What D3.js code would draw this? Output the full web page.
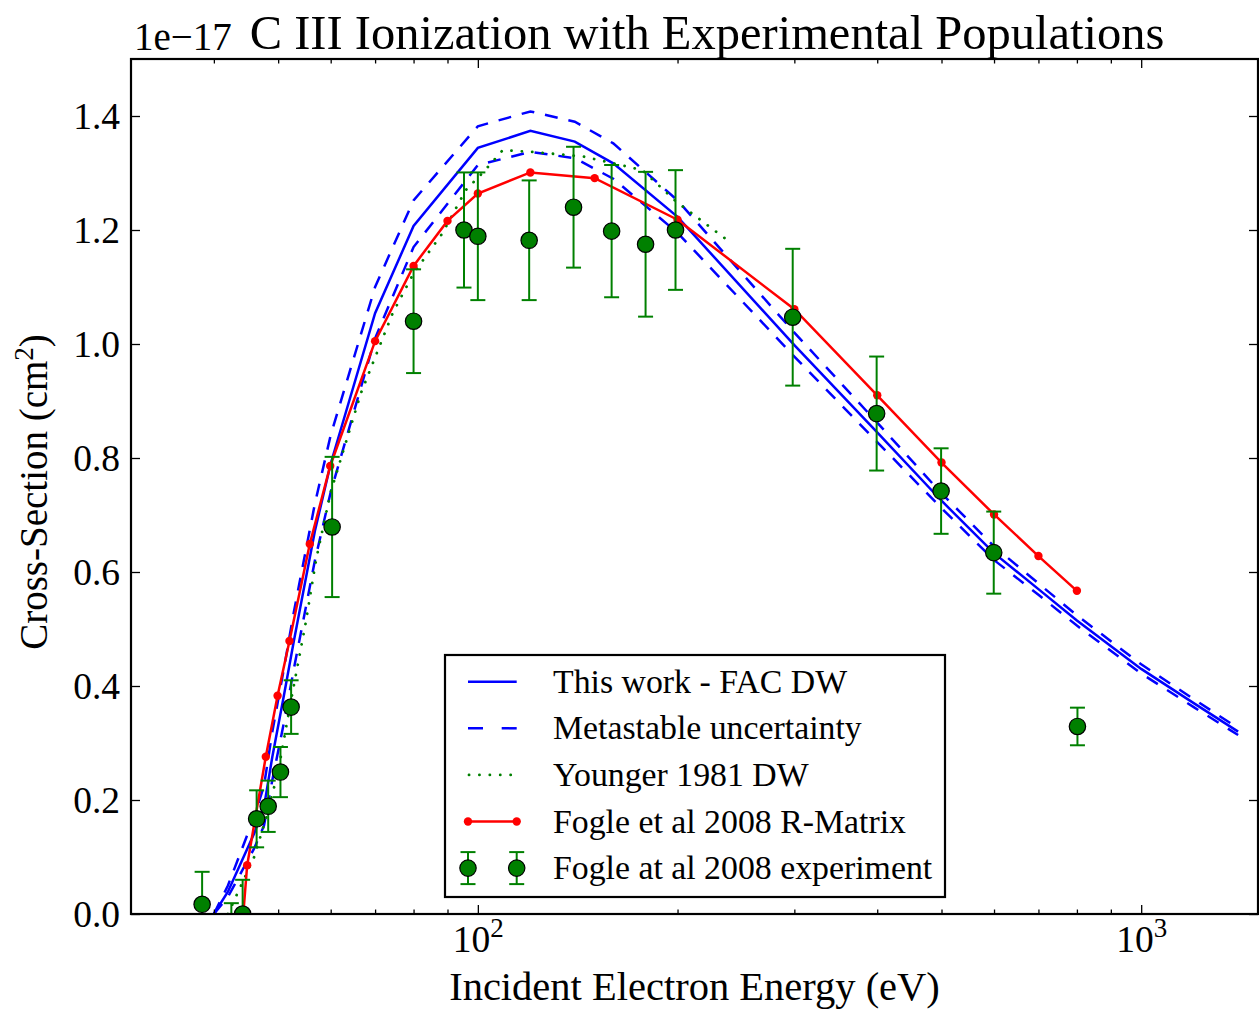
<!DOCTYPE html>
<html>
<head>
<meta charset="utf-8">
<script src="https://cdn.jsdelivr.net/npm/d3@7"></script>
<style>
  body { margin: 0; background: #fff; }
  svg { display: block; }
  text { font-family: "Liberation Serif", "DejaVu Serif", serif; fill: #000; }
</style>
</head>
<body>
<svg id="chart" width="1259" height="1010"></svg>
<script>
// Electron-impact ionization of C III, cross-sections in units of 1e-17 cm^2

// This work - FAC distorted-wave
const facEnergy = [40, 42, 46, 47.6, 49, 51, 52.8, 56.8, 60, 70, 80, 100, 120, 140, 160, 200, 300, 400, 500, 600, 700, 800, 1000, 1200, 1400];
const facSigma  = [0, 0.039, 0.141, 0.188, 0.276, 0.383, 0.479, 0.672, 0.79, 1.054, 1.207, 1.344, 1.374, 1.355, 1.317, 1.223, 0.998, 0.845, 0.725, 0.633, 0.57, 0.515, 0.43, 0.37, 0.32];
// Metastable-fraction uncertainty band (upper / lower)
const facHigh   = [0, 0.05, 0.17, 0.225, 0.32, 0.43, 0.53, 0.72, 0.84, 1.10, 1.252, 1.382, 1.408, 1.39, 1.352, 1.252, 1.02, 0.862, 0.738, 0.645, 0.58, 0.524, 0.438, 0.377, 0.326];
const facLow    = [0, 0.03, 0.115, 0.155, 0.235, 0.335, 0.43, 0.62, 0.74, 1.01, 1.17, 1.314, 1.337, 1.326, 1.29, 1.195, 0.978, 0.828, 0.712, 0.621, 0.56, 0.506, 0.422, 0.363, 0.314];

// Younger 1981 distorted-wave
const youngerEnergy = [42, 46, 48, 50, 52, 55, 57, 60, 66.6, 74.4, 80, 88.4, 95.9, 102, 109, 121, 144, 160, 177, 199, 236];
const youngerSigma  = [0, 0.1, 0.17, 0.25, 0.36, 0.51, 0.62, 0.74, 0.913, 1.054, 1.124, 1.194, 1.27, 1.302, 1.34, 1.337, 1.329, 1.317, 1.305, 1.25, 1.185];

// Fogle et al 2008 R-Matrix
const rmEnergy = [44.3, 44.9, 47.9, 49.9, 52.0, 55.8, 59.9, 70, 80, 90, 100, 120, 150, 200, 300, 400, 500, 600, 700, 800];
const rmSigma  = [0.0, 0.0855, 0.276, 0.383, 0.479, 0.649, 0.786, 1.005, 1.137, 1.216, 1.264, 1.301, 1.291, 1.218, 1.061, 0.910, 0.792, 0.701, 0.628, 0.567];

// Fogle et al 2008 experiment
const expEnergy = [38.4, 42.5, 44.2, 46.4, 48.3, 50.4, 52.3, 60.3, 80, 95.3, 100, 119.5, 139.4, 159.1, 179, 198.6, 298.3, 399.2, 499.3, 599.4, 801.5];
const expSigma  = [0.017, -0.02, 0.0, 0.167, 0.189, 0.249, 0.363, 0.679, 1.040, 1.200, 1.189, 1.182, 1.240, 1.198, 1.175, 1.200, 1.047, 0.878, 0.742, 0.634, 0.329];
const expError  = [0.057, 0.039, 0.06, 0.05, 0.045, 0.044, 0.047, 0.123, 0.091, 0.101, 0.112, 0.105, 0.106, 0.116, 0.127, 0.105, 0.12, 0.1, 0.075, 0.072, 0.033];

// Axis ticks and text
const xMajorTicks = [100, 1000];
const xMinorTicks = [40, 50, 60, 70, 80, 90, 200, 300, 400, 500, 600, 700, 800, 900];
const yTicks = [0, 0.2, 0.4, 0.6, 0.8, 1.0, 1.2, 1.4];
const titleText = "C III Ionization with Experimental Populations";
const offsetText = "1e\u221217";
const xLabel = "Incident Electron Energy (eV)";
const yLabel = "Cross-Section (cm";
const legendLabels = ["This work - FAC DW", "Metastable uncertainty", "Younger 1981 DW", "Fogle et al 2008 R-Matrix", "Fogle at al 2008 experiment"];

const BLUE = "#0000ff", RED = "#ff0000", GREEN = "#008000";
const L = 131, R = 1258, T = 59, B = 914;

const svg = d3.select("#chart");
const x = d3.scaleLog().domain([30, 1500]).range([L, R]);
const y = d3.scaleLinear().domain([0, 1.5]).range([B, T]);

svg.append("defs").append("clipPath").attr("id", "plotClip")
  .append("rect").attr("x", L).attr("y", T).attr("width", R - L).attr("height", B - T);

const plot = svg.append("g").attr("clip-path", "url(#plotClip)");
const zip = (a, b) => a.map((v, i) => [v, b[i]]);
const line = d3.line().x(d => x(d[0])).y(d => y(d[1]));

// theory curves
plot.append("path").datum(zip(facEnergy, facSigma)).attr("d", line)
  .attr("fill", "none").attr("stroke", BLUE).attr("stroke-width", 2.5);
[facHigh, facLow].forEach(arr => {
  plot.append("path").datum(zip(facEnergy, arr)).attr("d", line)
    .attr("fill", "none").attr("stroke", BLUE).attr("stroke-width", 2.5)
    .attr("stroke-dasharray", "13,11");
});
plot.append("path").datum(zip(youngerEnergy, youngerSigma)).attr("d", line)
  .attr("fill", "none").attr("stroke", GREEN).attr("stroke-width", 2.8)
  .attr("stroke-linecap", "round").attr("stroke-dasharray", "0.1,10.3");

const rm = zip(rmEnergy, rmSigma);
plot.append("path").datum(rm).attr("d", line)
  .attr("fill", "none").attr("stroke", RED).attr("stroke-width", 2.5);
plot.selectAll("circle.rm").data(rm).join("circle").attr("class", "rm")
  .attr("cx", d => x(d[0])).attr("cy", d => y(d[1])).attr("r", 4.2).attr("fill", RED);

// experiment with error bars
const exp = expEnergy.map((e, i) => ({ e, v: expSigma[i], err: expError[i] }));
const eb = plot.append("g").attr("stroke", GREEN).attr("stroke-width", 2);
exp.forEach(d => {
  const cx = x(d.e), y0 = y(d.v - d.err), y1 = y(d.v + d.err);
  eb.append("line").attr("x1", cx).attr("x2", cx).attr("y1", y0).attr("y2", y1);
  eb.append("line").attr("x1", cx - 7.5).attr("x2", cx + 7.5).attr("y1", y0).attr("y2", y0);
  eb.append("line").attr("x1", cx - 7.5).attr("x2", cx + 7.5).attr("y1", y1).attr("y2", y1);
});
plot.selectAll("circle.exp").data(exp).join("circle").attr("class", "exp")
  .attr("cx", d => x(d.e)).attr("cy", d => y(d.v)).attr("r", 8.2)
  .attr("fill", GREEN).attr("stroke", "#000").attr("stroke-width", 1.2);

// axes: inward ticks on all four sides
const tickFont = 37.5;
const gx = svg.append("g").attr("transform", `translate(0,${B})`)
  .call(d3.axisBottom(x).tickValues(xMajorTicks).tickSize(-9).tickPadding(11.5).tickFormat(""));
gx.selectAll(".tick text").each(function (d) {
  const t = d3.select(this).attr("font-size", tickFont).attr("fill", "#000");
  t.append("tspan").text("10");
  t.append("tspan").attr("dy", -15).attr("font-size", 27).text(Math.round(Math.log10(d)));
});
svg.append("g").attr("transform", `translate(0,${B})`)
  .call(d3.axisBottom(x).tickValues(xMinorTicks).tickSize(-4.5).tickFormat(""));
svg.append("g").attr("transform", `translate(0,${T})`)
  .call(d3.axisTop(x).tickValues(xMajorTicks).tickSize(-9).tickFormat(""));
svg.append("g").attr("transform", `translate(0,${T})`)
  .call(d3.axisTop(x).tickValues(xMinorTicks).tickSize(-4.5).tickFormat(""));
svg.append("g").attr("transform", `translate(${L},0)`)
  .call(d3.axisLeft(y).tickValues(yTicks).tickSize(-9).tickPadding(11).tickFormat(d3.format(".1f")))
  .selectAll("text").attr("font-size", tickFont).attr("fill", "#000");
svg.append("g").attr("transform", `translate(${R},0)`)
  .call(d3.axisRight(y).tickValues(yTicks).tickSize(-9).tickFormat(""));
svg.selectAll(".domain").remove();
svg.selectAll(".tick line").attr("stroke", "#000").attr("stroke-width", 1.3);
svg.selectAll(".tick text").attr("font-family", '"Liberation Serif", serif');

// frame
svg.append("rect").attr("x", L).attr("y", T).attr("width", R - L).attr("height", B - T)
  .attr("fill", "none").attr("stroke", "#000").attr("stroke-width", 2.2);

// title, offset text and axis labels
svg.append("text").attr("x", 707).attr("y", 49).attr("text-anchor", "middle")
  .attr("font-size", 48.5).text(titleText);
svg.append("text").attr("x", 134).attr("y", 50).attr("font-size", 39).text(offsetText);
svg.append("text").attr("x", (L + R) / 2).attr("y", 1000).attr("text-anchor", "middle")
  .attr("font-size", 40.5).text(xLabel);
const yl = svg.append("text").attr("transform", `translate(47,492) rotate(-90)`)
  .attr("text-anchor", "middle").attr("font-size", 39);
yl.append("tspan").text(yLabel);
yl.append("tspan").attr("dy", -14).attr("font-size", 27).text("2");
yl.append("tspan").attr("dy", 14).text(")");

// legend
const lg = svg.append("g");
lg.append("rect").attr("x", 445).attr("y", 655).attr("width", 500).attr("height", 242)
  .attr("fill", "#fff").attr("stroke", "#000").attr("stroke-width", 2.2);
const rowY = i => 681.7 + i * 46.6;
const hx0 = 468, hx1 = 516.7;
legendLabels.forEach((lab, i) => {
  lg.append("text").attr("x", 553).attr("y", rowY(i) + 11).attr("font-size", 33.8).text(lab);
});
lg.append("line").attr("x1", hx0).attr("x2", hx1).attr("y1", rowY(0)).attr("y2", rowY(0))
  .attr("stroke", BLUE).attr("stroke-width", 2.5);
lg.append("line").attr("x1", hx0).attr("x2", hx1).attr("y1", rowY(1)).attr("y2", rowY(1))
  .attr("stroke", BLUE).attr("stroke-width", 2.5).attr("stroke-dasharray", "15,18.7");
lg.append("line").attr("x1", hx0 + 1).attr("x2", hx1).attr("y1", rowY(2)).attr("y2", rowY(2))
  .attr("stroke", GREEN).attr("stroke-width", 2.8).attr("stroke-linecap", "round")
  .attr("stroke-dasharray", "0.1,10.3");
lg.append("line").attr("x1", hx0).attr("x2", hx1).attr("y1", rowY(3)).attr("y2", rowY(3))
  .attr("stroke", RED).attr("stroke-width", 2.5);
[hx0, hx1].forEach(hx => {
  lg.append("circle").attr("cx", hx).attr("cy", rowY(3)).attr("r", 4.2).attr("fill", RED);
  const cy = rowY(4);
  const g = lg.append("g").attr("stroke", GREEN).attr("stroke-width", 2);
  g.append("line").attr("x1", hx).attr("x2", hx).attr("y1", cy - 16).attr("y2", cy + 16);
  g.append("line").attr("x1", hx - 7.5).attr("x2", hx + 7.5).attr("y1", cy - 16).attr("y2", cy - 16);
  g.append("line").attr("x1", hx - 7.5).attr("x2", hx + 7.5).attr("y1", cy + 16).attr("y2", cy + 16);
  lg.append("circle").attr("cx", hx).attr("cy", cy).attr("r", 8.2)
    .attr("fill", GREEN).attr("stroke", "#000").attr("stroke-width", 1.2);
});
</script>
</body>
</html>
